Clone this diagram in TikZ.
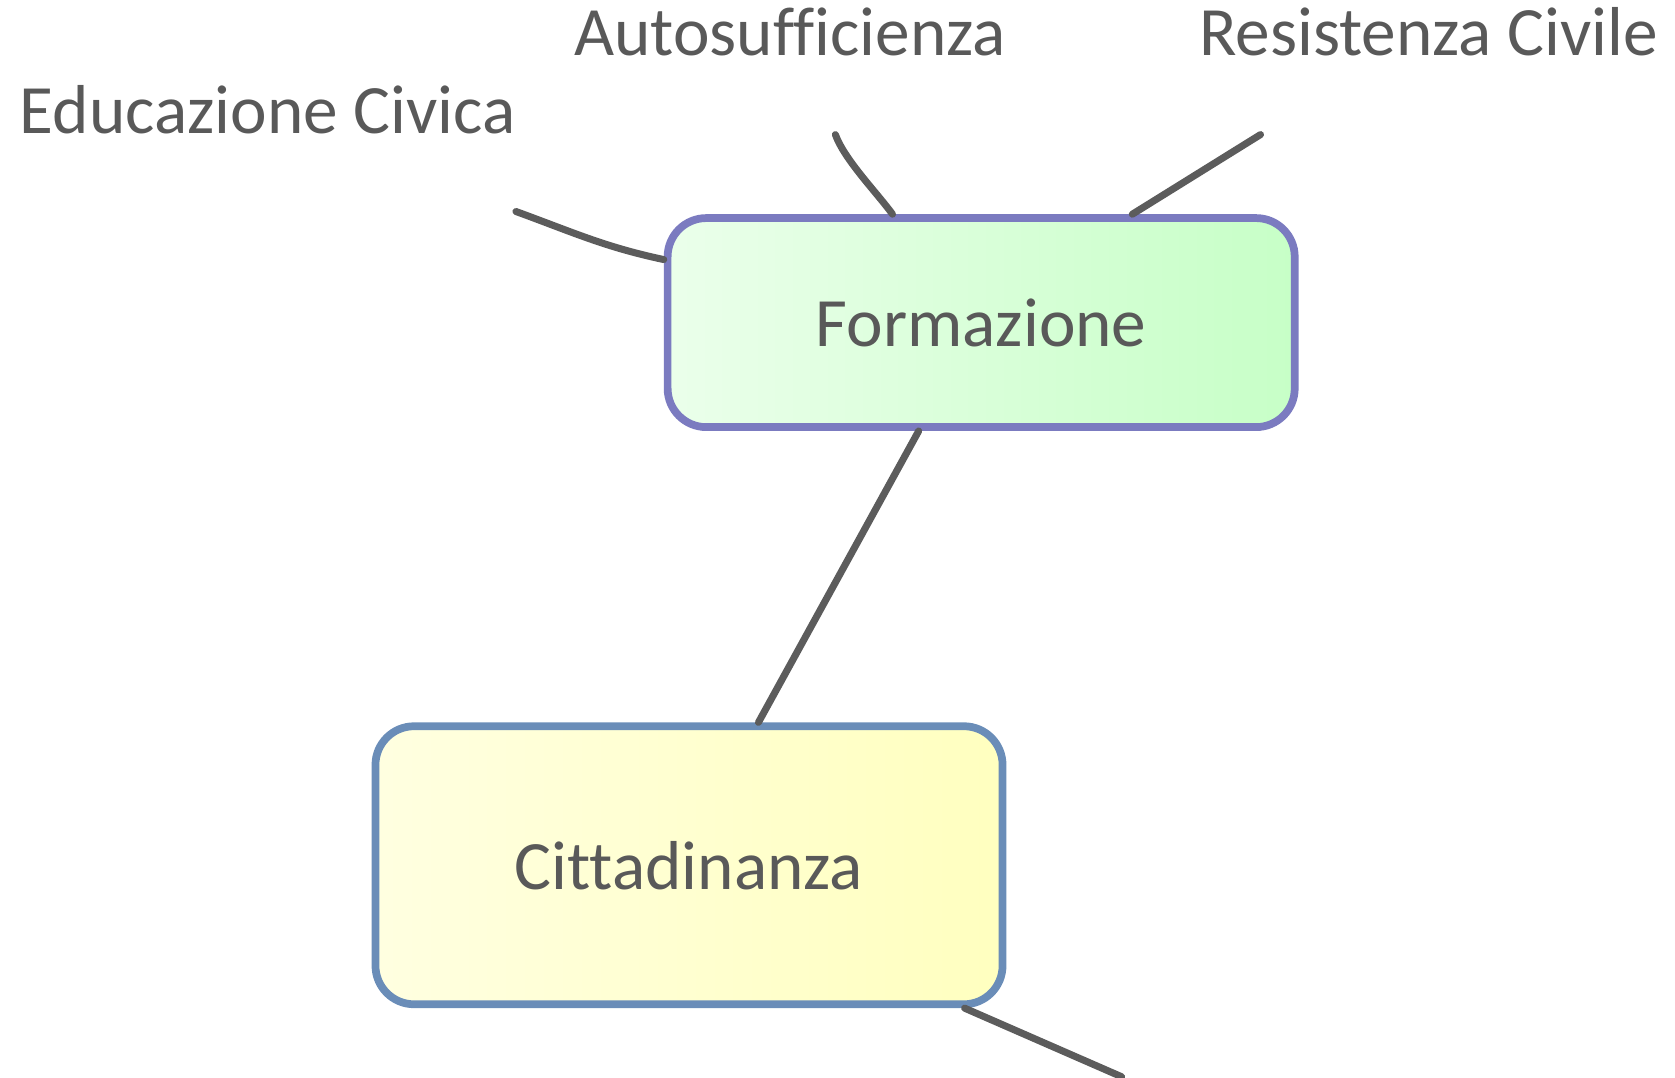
\documentclass[tikz,border=0pt]{standalone}
\usepackage{fontspec}
\usetikzlibrary{calc}
\setmainfont{Carlito}[Ligatures={NoCommon}]
\definecolor{inkgray}{HTML}{595959}
\definecolor{linkgray}{HTML}{5C5C5C}
\definecolor{formborder}{HTML}{7B7BC0}
\definecolor{cittborder}{HTML}{6A8DB8}
\tikzset{
  topic/.style={text=inkgray, font=\fontsize{19.7}{24}\selectfont},
  box/.style={topic, rounded corners=11pt, line width=2.2pt,
    minimum width=6.27cm, align=center},
  link/.style={draw=linkgray, line width=2pt, line cap=round}
}
\begin{document}
\begin{tikzpicture}[x=0.01068cm, y=-0.01068cm]

% 1. Page frame
\useasboundingbox (0,0) rectangle (1568,1009);

% 2. Boxes
\node[box, draw=formborder, left color=green!8, right color=green!22, minimum height=2.09cm]
  (form) at (918.5,302) {Formazione};
\node[box, draw=cittborder, left color=yellow!12, right color=yellow!25, minimum height=2.78cm]
  (citt) at (645,810) {Cittadinanza};

% 3. Free labels
\node[topic, anchor=base west, inner sep=0pt] (edu) at (18,125) {Educazione Civica};
\node[topic, anchor=base west, inner sep=0pt] (auto) at (537,52) {Autosufficienza};
\node[topic, anchor=base west, inner sep=0pt] (resi) at (1122,52) {Resistenza Civile};

% 4. Free ends of the branches
\coordinate (eduEnd) at (483,198);
\coordinate (autoEnd) at (782,126);
\coordinate (resiEnd) at (1180,126);
\coordinate (tailEnd) at (1050,1008);

% 5. Branches
\draw[link] (eduEnd) to[out=-20, in=168] ($(form.west)+(0,-59)$);
\draw[link] (autoEnd) to[out=-70, in=126, looseness=0.7] ($(form.north)+(-83,0)$);
\draw[link] (resiEnd) -- ($(form.north)+(141.5,0)$);
\draw[link] ($(form.south)+(-58.5,0)$) -- ($(citt.north)+(65,0)$);
\draw[link] ($(citt.south)+(258,0)$) -- (tailEnd);

\end{tikzpicture}
\end{document}
